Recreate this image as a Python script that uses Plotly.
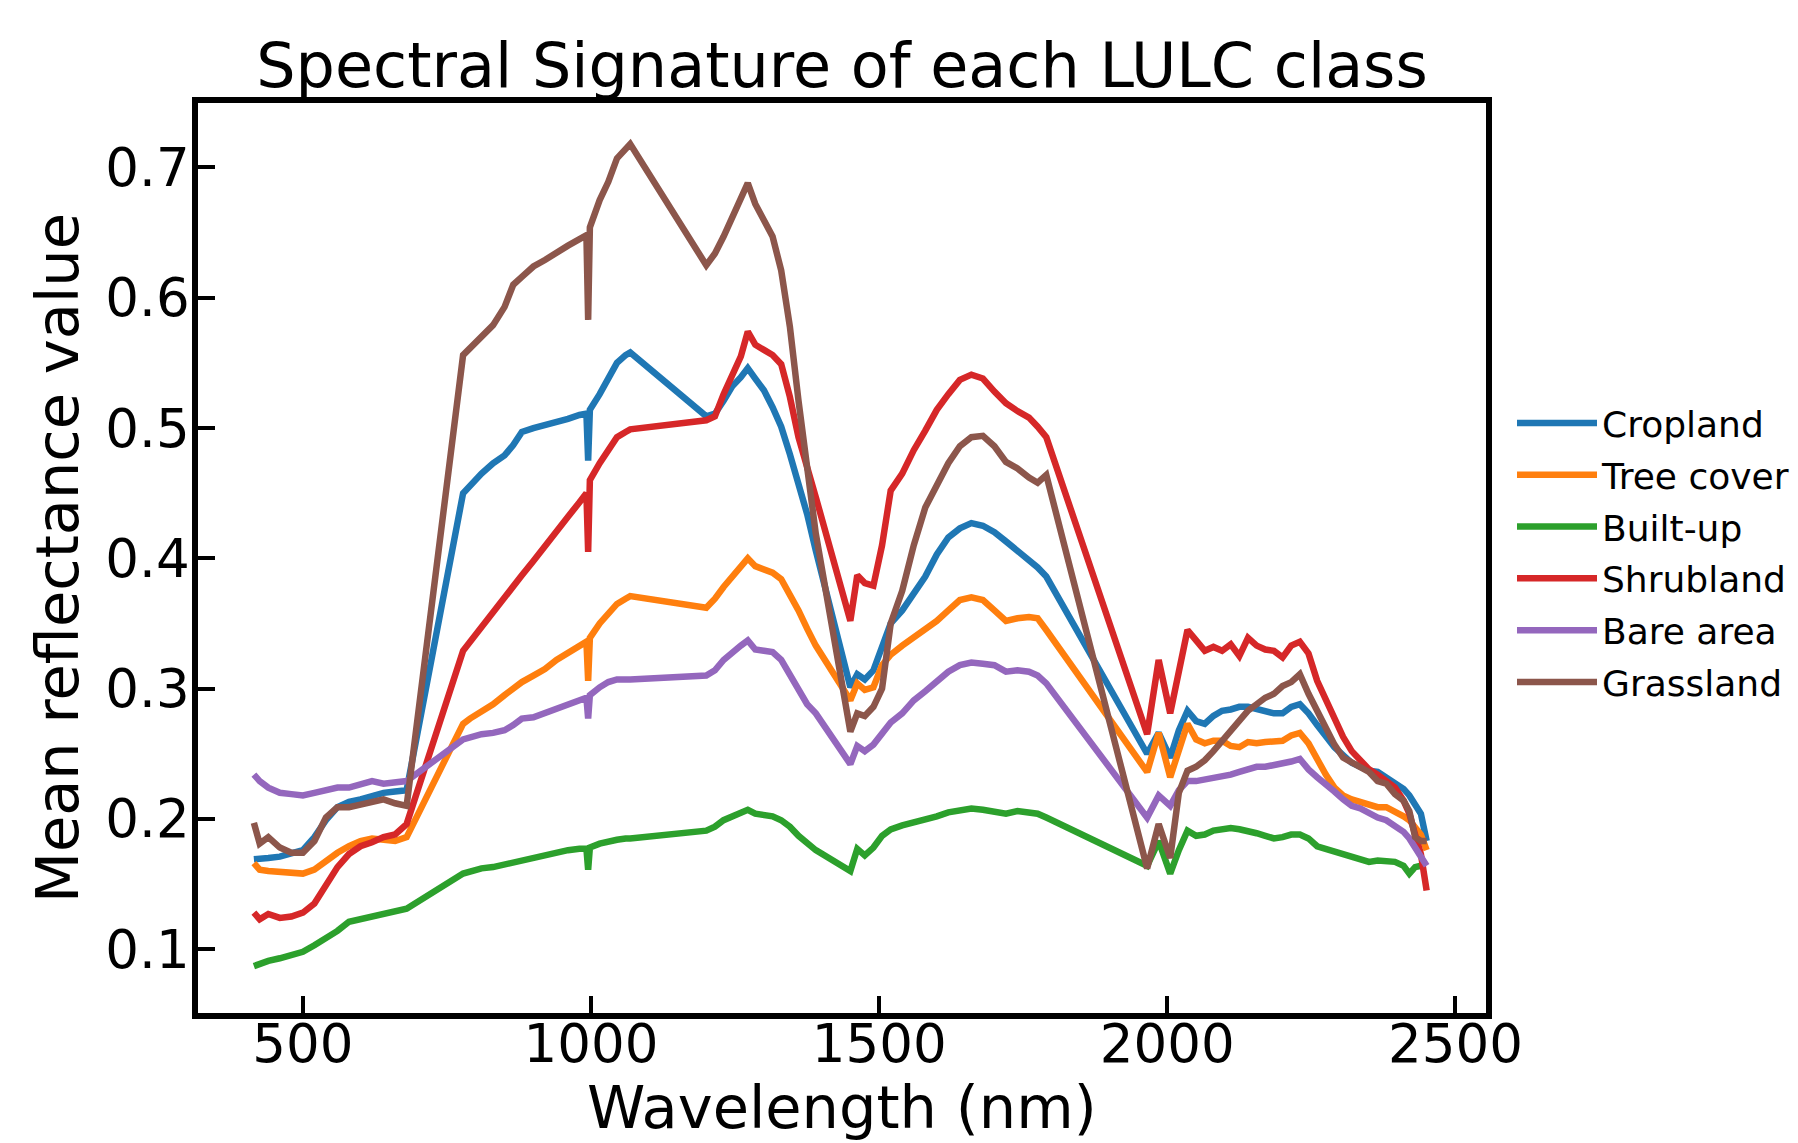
import plotly.graph_objects as go

# ---------------- data ----------------
wavelength = [415, 425, 440, 460, 480, 500, 520, 540, 560, 580, 600, 620, 640, 660, 680,
              778, 790, 810, 830, 850, 865, 880, 900, 920, 940, 960, 980, 992, 995, 998,
              1015, 1030, 1045, 1060, 1068,
              1200, 1215, 1230, 1245, 1260, 1272, 1285, 1300, 1315, 1330, 1345, 1360, 1375, 1390,
              1450, 1462, 1475, 1490, 1505, 1520, 1540, 1560, 1580, 1600, 1620, 1640, 1660, 1680,
              1700, 1720, 1740, 1760, 1775, 1790,
              1965, 1985, 2005, 2020, 2035, 2050, 2065, 2080, 2095, 2110, 2125, 2140, 2155, 2170,
              2185, 2200, 2215, 2230, 2245, 2260, 2275, 2290, 2305, 2320, 2335, 2350, 2365, 2380,
              2395, 2410, 2420, 2430, 2440, 2450]

cropland = [0.169, 0.169, 0.170, 0.171, 0.173, 0.176, 0.186, 0.199, 0.209, 0.213, 0.215, 0.218, 0.220, 0.221, 0.222,
            0.450, 0.456, 0.465, 0.473, 0.479, 0.487, 0.497, 0.500, 0.502, 0.505, 0.507, 0.510, 0.511, 0.475, 0.514,
            0.526, 0.537, 0.550, 0.556, 0.558,
            0.509, 0.511, 0.521, 0.532, 0.539, 0.546, 0.538, 0.529, 0.516, 0.501, 0.480, 0.457, 0.434, 0.406,
            0.301, 0.311, 0.307, 0.314, 0.332, 0.350, 0.360, 0.372, 0.386, 0.403, 0.416, 0.423, 0.427, 0.425,
            0.420, 0.413, 0.406, 0.398, 0.393, 0.386,
            0.250, 0.266, 0.247, 0.268, 0.283, 0.275, 0.273, 0.279, 0.283, 0.284, 0.286, 0.286, 0.284, 0.283,
            0.281, 0.281, 0.286, 0.288, 0.281, 0.272, 0.263, 0.255, 0.249, 0.243, 0.240, 0.237, 0.236, 0.232,
            0.227, 0.223, 0.218, 0.211, 0.204, 0.183]

tree_cover = [0.166, 0.161, 0.160, 0.159, 0.158, 0.158, 0.161, 0.168, 0.174, 0.179, 0.183, 0.185, 0.184, 0.183, 0.186,
              0.273, 0.277, 0.282, 0.288, 0.295, 0.300, 0.305, 0.310, 0.315, 0.322, 0.327, 0.332, 0.336, 0.306, 0.339,
              0.350, 0.357, 0.365, 0.369, 0.371,
              0.362, 0.369, 0.378, 0.386, 0.393, 0.400, 0.394, 0.392, 0.389, 0.384, 0.373, 0.360, 0.346, 0.333,
              0.291, 0.304, 0.299, 0.301, 0.318, 0.326, 0.333, 0.339, 0.346, 0.352, 0.360, 0.368, 0.370, 0.368,
              0.360, 0.352, 0.354, 0.355, 0.354, 0.345,
              0.236, 0.266, 0.232, 0.252, 0.273, 0.261, 0.258, 0.260, 0.260, 0.256, 0.255, 0.259, 0.258, 0.259,
              0.260, 0.260, 0.264, 0.266, 0.258, 0.245, 0.234, 0.224, 0.218, 0.215, 0.213, 0.210, 0.209, 0.209,
              0.206, 0.202, 0.199, 0.194, 0.188, 0.176]

built_up = [0.087, 0.089, 0.091, 0.093, 0.096, 0.098, 0.103, 0.108, 0.114, 0.121, 0.123, 0.125, 0.126, 0.128, 0.131,
            0.158, 0.160, 0.162, 0.163, 0.165, 0.167, 0.169, 0.171, 0.173, 0.174, 0.176, 0.177, 0.177, 0.161, 0.178,
            0.181, 0.183, 0.184, 0.185, 0.185,
            0.191, 0.194, 0.199, 0.202, 0.205, 0.207, 0.204, 0.203, 0.202, 0.199, 0.194, 0.187, 0.181, 0.176,
            0.160, 0.177, 0.172, 0.178, 0.187, 0.192, 0.195, 0.197, 0.200, 0.202, 0.205, 0.207, 0.208, 0.207,
            0.206, 0.204, 0.206, 0.205, 0.204, 0.201,
            0.164, 0.183, 0.158, 0.176, 0.191, 0.187, 0.188, 0.191, 0.192, 0.193, 0.192, 0.191, 0.189, 0.187,
            0.185, 0.186, 0.188, 0.188, 0.185, 0.179, 0.177, 0.174, 0.172, 0.170, 0.168, 0.167, 0.168, 0.167,
            0.167, 0.164, 0.158, 0.163, 0.164, None]

shrubland = [0.128, 0.123, 0.127, 0.124, 0.125, 0.128, 0.135, 0.150, 0.163, 0.173, 0.179, 0.182, 0.186, 0.188, 0.196,
             0.329, 0.336, 0.347, 0.358, 0.370, 0.378, 0.387, 0.398, 0.410, 0.421, 0.432, 0.443, 0.450, 0.405, 0.460,
             0.473, 0.483, 0.493, 0.497, 0.499,
             0.506, 0.509, 0.526, 0.542, 0.555, 0.574, 0.564, 0.560, 0.556, 0.549, 0.524, 0.493, 0.468, 0.447,
             0.352, 0.387, 0.381, 0.379, 0.410, 0.452, 0.465, 0.483, 0.498, 0.514, 0.526, 0.537, 0.541, 0.538,
             0.528, 0.519, 0.513, 0.508, 0.501, 0.493,
             0.265, 0.322, 0.281, 0.311, 0.345, 0.337, 0.329, 0.332, 0.329, 0.334, 0.325, 0.339, 0.333, 0.330,
             0.329, 0.324, 0.333, 0.336, 0.327, 0.306, 0.291, 0.275, 0.263, 0.252, 0.245, 0.238, 0.234, 0.229,
             0.224, 0.214, 0.204, 0.188, 0.173, 0.145]

bare_area = [0.234, 0.229, 0.224, 0.220, 0.219, 0.218, 0.220, 0.222, 0.224, 0.224, 0.226, 0.229, 0.227, 0.228, 0.229,
             0.261, 0.263, 0.265, 0.266, 0.268, 0.272, 0.277, 0.278, 0.281, 0.284, 0.287, 0.290, 0.293, 0.277, 0.295,
             0.301, 0.305, 0.307, 0.307, 0.307,
             0.310, 0.314, 0.322, 0.328, 0.333, 0.337, 0.330, 0.329, 0.328, 0.322, 0.311, 0.298, 0.288, 0.281,
             0.242, 0.256, 0.252, 0.257, 0.265, 0.274, 0.281, 0.291, 0.298, 0.305, 0.313, 0.318, 0.320, 0.319,
             0.318, 0.313, 0.314, 0.313, 0.310, 0.304,
             0.201, 0.218, 0.210, 0.222, 0.229, 0.229, 0.230, 0.231, 0.232, 0.234, 0.236, 0.238, 0.240, 0.240,
             0.241, 0.242, 0.244, 0.246, 0.238, 0.232, 0.227, 0.221, 0.215, 0.210, 0.208, 0.204, 0.201, 0.199,
             0.195, 0.190, 0.185, 0.178, 0.172, 0.164]

grassland = [0.197, 0.181, 0.186, 0.178, 0.174, 0.174, 0.183, 0.201, 0.209, 0.209, 0.211, 0.213, 0.215, 0.212, 0.210,
             0.556, 0.561, 0.570, 0.579, 0.593, 0.610, 0.616, 0.624, 0.629, 0.635, 0.640, 0.645, 0.648, 0.583, 0.654,
             0.675, 0.689, 0.707, 0.715, 0.718,
             0.625, 0.634, 0.647, 0.662, 0.678, 0.688, 0.672, 0.660, 0.647, 0.621, 0.578, 0.521, 0.468, 0.419,
             0.267, 0.281, 0.279, 0.286, 0.300, 0.350, 0.375, 0.410, 0.439, 0.456, 0.473, 0.486, 0.493, 0.494,
             0.486, 0.474, 0.469, 0.462, 0.458, 0.464,
             0.162, 0.196, 0.170, 0.220, 0.237, 0.240, 0.245, 0.252, 0.260, 0.268, 0.275, 0.283, 0.288, 0.293,
             0.296, 0.302, 0.305, 0.311, 0.296, 0.283, 0.270, 0.257, 0.247, 0.243, 0.240, 0.236, 0.229, 0.227,
             0.219, 0.214, 0.206, 0.186, 0.183, 0.183]

class_names = ["Cropland", "Tree cover", "Built-up", "Shrubland", "Bare area", "Grassland"]
class_values = [cropland, tree_cover, built_up, shrubland, bare_area, grassland]
class_colors = ["#1f77b4", "#ff7f0e", "#2ca02c", "#d62728", "#9467bd", "#8c564b"]

x_ticks = [500, 1000, 1500, 2000, 2500]
y_ticks = [0.1, 0.2, 0.3, 0.4, 0.5, 0.6, 0.7]

FONT = "DejaVu Sans"
FIG_W, FIG_H = 1790, 1135          # page body has an 8px margin
ML, MT, PW, PH = 190, 95, 1288, 910

fig = go.Figure()
for name, vals, col in zip(class_names, class_values, class_colors):
    fig.add_trace(go.Scatter(
        x=wavelength, y=vals, mode="lines", name=name, legendgroup=name,
        line=dict(color=col, width=6.5), connectgaps=False,
    ))

axis_common = dict(
    showgrid=False, zeroline=False, showline=True, linecolor="black", linewidth=5.5,
    mirror=True, ticks="inside", ticklen=17, tickwidth=4, tickcolor="black",
    tickfont=dict(family=FONT, size=53, color="black"),
)

fig.update_layout(
    width=FIG_W, height=FIG_H,
    margin=dict(l=ML, r=FIG_W - ML - PW, t=MT, b=FIG_H - MT - PH, autoexpand=False),
    paper_bgcolor="white", plot_bgcolor="white",
    font=dict(family=FONT, color="black"),
    title=dict(text="Spectral Signature of each LULC class", x=0.5, xref="paper",
               y=1 - 57 / FIG_H, yref="container", yanchor="middle", xanchor="center",
               font=dict(family=FONT, size=62, color="black")),
    xaxis=dict(range=[318, 2553], tickvals=x_ticks, ticktext=[str(v) for v in x_ticks],
               ticklabelstandoff=-20, automargin=False, **axis_common),
    yaxis=dict(range=[0.051, 0.7495], tickvals=y_ticks, ticktext=[f"{v:.1f}" for v in y_ticks],
               ticklabelstandoff=-8, automargin=False, **axis_common),
    legend=dict(x=(1504 - ML) / PW, xanchor="left", y=0.506, yanchor="middle",
                font=dict(family=FONT, size=36, color="black"), itemwidth=80,
                bgcolor="rgba(0,0,0,0)", borderwidth=0, tracegroupgap=2, traceorder="grouped"),
    showlegend=True,
)

fig.add_annotation(text="Wavelength (nm)", x=0.5, xref="paper", y=-(1099 - (MT + PH)) / PH, yref="paper",
                   xanchor="center", yanchor="middle", showarrow=False,
                   font=dict(family=FONT, size=59, color="black"))
fig.add_annotation(text="Mean reflectance value", x=(49 - ML) / PW, xref="paper", y=0.5, yref="paper",
                   xanchor="center", yanchor="middle", showarrow=False, textangle=-90,
                   font=dict(family=FONT, size=59, color="black"))

fig.write_html("out.html")
